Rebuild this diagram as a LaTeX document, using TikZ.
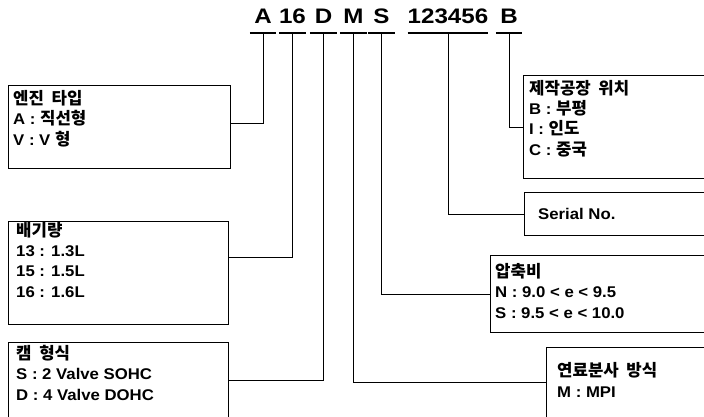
\documentclass[tikz,border=0pt]{standalone}
\usepackage{fontspec}
\setmainfont{Liberation Sans}[FakeStretch=1.08]
\newfontfamily\kr{Noto Sans CJK KR}[Scale=1.08, WordSpace=2]
\newfontfamily\codefont{Liberation Sans}[FakeStretch=1.15]

\begin{document}
\begin{tikzpicture}[x=1pt, y=-1pt,
    code/.style={anchor=base, inner sep=0pt, font=\codefont\fontsize{21}{21}\selectfont\bfseries},
    infobox/.style={draw, line width=1.1pt, anchor=north west, inner sep=0pt},
    boxtext/.style={anchor=base west, align=left, inner sep=0pt, font=\fontsize{15.5}{20.3}\selectfont\bfseries},
    link/.style={line width=0.9pt},
    uline/.style={line width=1.3pt}]
        \clip (0,0) rectangle (704,416);

        \node[code, minimum width=26] (tA) at (263,23) {A};
        \node[code, minimum width=25] (t16) at (292.5,23) {16};
        \node[code, minimum width=27] (tD) at (323.5,23) {D};
        \node[code, minimum width=27] (tM) at (353.5,23) {M};
        \node[code, minimum width=27] (tS) at (381.5,23) {S};
        \node[code, minimum width=80] (tNo) at (448,23) {123456};
        \node[code, minimum width=26] (tB) at (509,23) {B};

        \node[infobox, minimum width=222, minimum height=83] (engine) at (8,85) {};
        \node[infobox, minimum width=220, minimum height=103] (disp) at (8,221) {};
        \node[infobox, minimum width=220, minimum height=85] (cam) at (8,342) {};
        \node[infobox, minimum width=192, minimum height=103] (plant) at (523,75) {};
        \node[infobox, minimum width=191, minimum height=43] (serial) at (524,192) {};
        \node[infobox, minimum width=225, minimum height=77] (comp) at (490,255) {};
        \node[infobox, minimum width=169, minimum height=80] (fuel) at (546,347) {};

        % text nodes are placed by the baseline of their last line
        \node[boxtext] (engineText) at (13,145) {{\kr 엔진 타입}\\A : {\kr 직선형}\\V : V {\kr 형}};
        \node[boxtext] (dispText) at (16,297) {{\kr 배기량}\\13 : 1.3L\\15 : 1.5L\\16 : 1.6L};
        \node[boxtext] (camText) at (16,400) {{\kr 캠 형식}\\S : 2 Valve SOHC\\D : 4 Valve DOHC};
        \node[boxtext] (plantText) at (529,155) {{\kr 제작공장 위치}\\B : {\kr 부평}\\I : {\kr 인도}\\C : {\kr 중국}};
        \node[boxtext] (serialText) at (538,219) {Serial No.};
        \node[boxtext] (compText) at (495,318) {{\kr 압축비}\\N : 9.0 < e < 9.5\\S : 9.5 < e < 10.0};
        \node[boxtext] (fuelText) at (557,397) {{\kr 연료분사 방식}\\M : MPI};

        \draw[uline] ([yshift=-10pt]tA.base west) -- ([yshift=-10pt]tA.base east);
        \draw[uline] ([yshift=-10pt]t16.base west) -- ([yshift=-10pt]t16.base east);
        \draw[uline] ([yshift=-10pt]tD.base west) -- ([yshift=-10pt]tD.base east);
        \draw[uline] ([yshift=-10pt]tM.base west) -- ([yshift=-10pt]tM.base east);
        \draw[uline] ([yshift=-10pt]tS.base west) -- ([yshift=-10pt]tS.base east);
        \draw[uline] ([yshift=-10pt]tNo.base west) -- ([yshift=-10pt]tNo.base east);
        \draw[uline] ([yshift=-10pt]tB.base west) -- ([yshift=-10pt]tB.base east);

        \draw[link] ([yshift=-10pt]tA.base) |- ([yshift=3.5pt]engine.east);
        \draw[link] ([yshift=-10pt]t16.base) |- ([yshift=15.5pt]disp.east);
        \draw[link] ([yshift=-10pt]tD.base) |- ([yshift=4.5pt]cam.east);
        \draw[link] ([yshift=-10pt]tM.base) |- ([yshift=5pt]fuel.west);
        \draw[link] ([yshift=-10pt]tS.base) |- (comp.west);
        \draw[link] ([yshift=-10pt]tNo.base) |- (serial.west);
        \draw[link] ([yshift=-10pt]tB.base) |- (plant.west);
    \end{tikzpicture}
\end{document}
